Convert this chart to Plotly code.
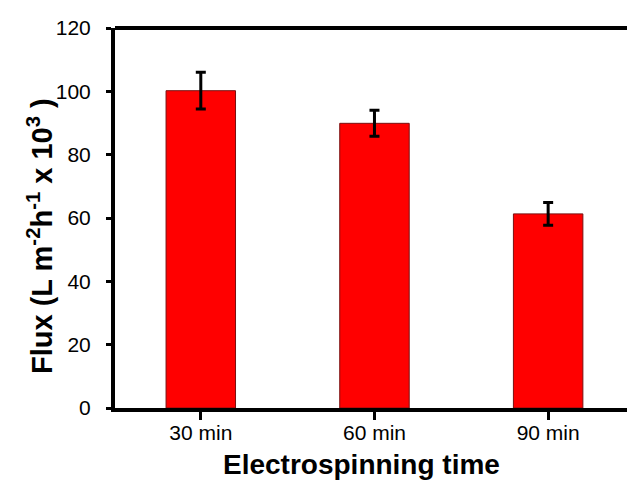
import plotly.graph_objects as go

categories = ["30 min", "60 min", "90 min"]
flux = [100.2, 89.9, 61.3]
flux_err = [5.8, 4.1, 3.6]
y_ticks = [0, 20, 40, 60, 80, 100, 120]

FONT = "Arial, Liberation Sans, sans-serif"

fig = go.Figure()
fig.add_trace(go.Bar(
    x=list(range(len(categories))),
    y=flux,
    width=0.4,
    marker=dict(color="#FF0000", line=dict(color="#7a1010", width=1)),
    error_y=dict(type="data", array=flux_err, visible=True,
                 color="black", thickness=3, width=5),
))

fig.update_layout(
    width=627, height=482,
    margin=dict(l=115, r=0, t=28, b=74),
    paper_bgcolor="white", plot_bgcolor="white",
    showlegend=False,
    font=dict(family=FONT, color="black"),
    xaxis=dict(
        range=[-0.494, 2.454],
        tickmode="array",
        tickvals=list(range(len(categories))),
        ticktext=categories,
        showline=True, linecolor="black", linewidth=4,
        ticks="outside", ticklen=8, tickwidth=3, tickcolor="black",
        showgrid=False, zeroline=False,
        tickfont=dict(size=21, family=FONT),
        ticklabelstandoff=-5,
    ),
    yaxis=dict(
        range=[0, 120],
        tickmode="array",
        tickvals=y_ticks,
        showline=True, linecolor="black", linewidth=4,
        ticks="outside", ticklen=5, tickwidth=3, tickcolor="black",
        showgrid=False, zeroline=False,
        tickfont=dict(size=21, family=FONT),
        ticklabelstandoff=11,
    ),
    annotations=[
        dict(text="Electrospinning time", xref="paper", yref="paper",
             x=(361 - 115) / 512, y=(408 - 465) / 380,
             xanchor="center", yanchor="middle", showarrow=False,
             font=dict(size=28, family=FONT, weight="bold")),
        dict(text="Flux (L m<sup>-2</sup>h<sup>-1</sup> x 10<sup>3</sup> )",
             xref="paper", yref="paper",
             x=(40 - 115) / 512, y=(408 - 236) / 380, textangle=-90,
             xanchor="center", yanchor="middle", showarrow=False,
             font=dict(size=29, family=FONT, weight="bold")),
    ],
    shapes=[dict(type="line", xref="paper", yref="paper",
                 x0=0, x1=1, y0=1, y1=1,
                 line=dict(color="black", width=4))],
)

fig.write_html("out.html")
